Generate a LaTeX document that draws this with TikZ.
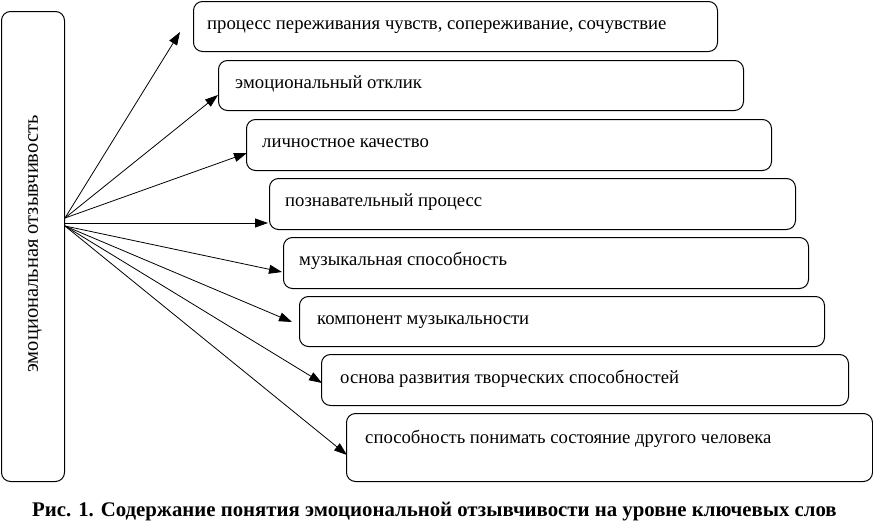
\documentclass[tikz,border=0pt]{standalone}
\usepackage{fontspec}
\setmainfont{Liberation Serif}
\usetikzlibrary{arrows.meta,calc}
\begin{document}
\begin{tikzpicture}[x=1pt,y=-1pt,
  box/.style={draw,line width=1pt,rounded corners=9pt,anchor=north west,inner sep=0pt},
  txt/.style={anchor=base west,inner sep=0pt,font=\fontsize{18.7}{22}\selectfont},
  arr/.style={line width=0.8pt,-{Triangle[length=13pt,width=9pt]}}]
\useasboundingbox (0,0) rectangle (873,530);
% left box
\node[box,minimum width=63pt,minimum height=470pt] (L) at (1,11) {};
\node[rotate=90,inner sep=0pt,font=\fontsize{20.5}{22}\selectfont] (Lt) at (35,244) {эмоциональная отзывчивость};
% right boxes
\node[box,minimum width=524pt,minimum height=50pt] (b1) at (193,1) {};
\node[box,minimum width=525pt,minimum height=50pt] (b2) at (218,60) {};
\node[box,minimum width=525pt,minimum height=51pt] (b3) at (246,119) {};
\node[box,minimum width=526pt,minimum height=51pt] (b4) at (269,178) {};
\node[box,minimum width=525pt,minimum height=51pt] (b5) at (283,237) {};
\node[box,minimum width=525pt,minimum height=50pt] (b6) at (299,296) {};
\node[box,minimum width=527pt,minimum height=51pt] (b7) at (321,354) {};
\node[box,minimum width=526pt,minimum height=68pt] (b8) at (346,413) {};
\node[txt] (t1) at ($(b1.north west)+(14,28)$) {процесс переживания чувств, сопереживание, сочувствие};
\node[txt] (t2) at ($(b2.north west)+(17,28)$) {эмоциональный отклик};
\node[txt] (t3) at ($(b3.north west)+(16,28)$) {личностное качество};
\node[txt] (t4) at ($(b4.north west)+(16,28)$) {познавательный процесс};
\node[txt] (t5) at ($(b5.north west)+(16,28)$) {музыкальная способность};
\node[txt] (t6) at ($(b6.north west)+(18,28)$) {компонент музыкальности};
\node[txt] (t7) at ($(b7.north west)+(19,29)$) {основа развития творческих способностей};
\node[txt] (t8) at ($(b8.north west)+(19,30)$) {способность понимать состояние другого человека};
% origins
\coordinate (o1) at ($(L.north east)+(0,207)$);
\coordinate (o2) at ($(L.north east)+(0,212)$);
\coordinate (o3) at ($(L.north east)+(0,215)$);
\draw[arr] (o1) -- ($(b1.north west)+(-13,31)$);
\draw[arr] (o1) -- ($(b2.north west)+(0,35)$);
\draw[arr] (o1) -- ($(b3.north west)+(1,34)$);
\draw[arr] (o2) -- ($(b4.north west)+(-1,45)$);
\draw[arr] (o3) -- ($(b5.north west)+(-1,35)$);
\draw[arr] (o3) -- ($(b6.north west)+(-7,26)$);
\draw[arr] (o3) -- ($(b7.north west)+(1,29)$);
\draw[arr] (o3) -- ($(b8.north west)+(1,42)$);
% caption
\node[inner sep=0pt,font=\bfseries\fontsize{20.8}{24}\selectfont] (cap) at (434.5,512) {Рис. 1. Содержание понятия эмоциональной отзывчивости на уровне ключевых слов};
\end{tikzpicture}
\end{document}
